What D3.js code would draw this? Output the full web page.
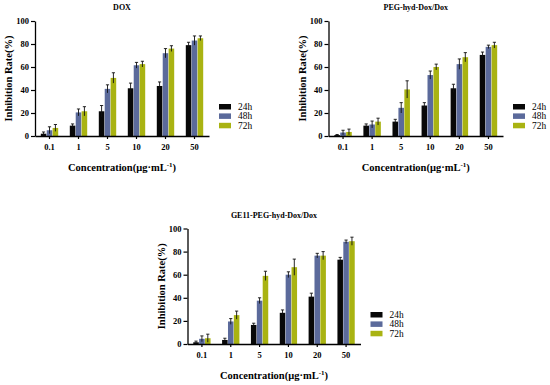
<!DOCTYPE html>
<html>
<head>
<meta charset="utf-8">
<script src="https://cdn.jsdelivr.net/npm/d3@7"></script>
<style>
  body { margin: 0; background: #fff; }
  svg { display: block; }
  svg text { font-family: "Liberation Serif", "Times New Roman", "DejaVu Serif", serif; }
</style>
</head>
<body>
<svg id="chart" width="550" height="385" font-family="Liberation Serif, serif"></svg>
<script>
// categories
const concentrations = ['0.1', '1', '5', '10', '20', '50'];
const times = ['24h', '48h', '72h'];
const yTicks = [0, 20, 40, 60, 80, 100];

// DOX: mean and error, one row per time point
const doxMean = [
  [2, 9, 21.5, 41.5, 43.5, 79],
  [5, 20.5, 41, 61.5, 72, 83],
  [7, 21.5, 50.5, 62.5, 76, 85]
];
const doxErr = [
  [1.5, 1.5, 5, 4.5, 3.5, 2.5],
  [3, 3, 3.5, 2.5, 4, 4],
  [3, 4, 4.5, 2.5, 2.5, 2]
];

// PEG-hyd-Dox/Dox
const pegMean = [
  [0.8, 9, 12.5, 26.5, 41.5, 70.5],
  [3, 10, 24.5, 53, 62.5, 77.5],
  [3.5, 12.5, 40.5, 60, 68.5, 79]
];
const pegErr = [
  [0.5, 1.5, 2, 2.5, 3.5, 2.5],
  [2, 3, 4.5, 3.5, 4.5, 1.5],
  [2.5, 3, 7.5, 2.5, 4, 2.5]
];

// GE11-PEG-hyd-Dox/Dox
const geMean = [
  [1.5, 3.5, 16.5, 27, 41, 73],
  [4.5, 19.5, 37.5, 60, 76.5, 88.5],
  [5, 25, 59, 66.5, 76.5, 89]
];
const geErr = [
  [1, 1.5, 1.5, 2.5, 3, 2],
  [2.5, 2.5, 2.5, 2.5, 2, 1.5],
  [3.5, 3.5, 4, 7, 3.5, 3.5]
];

const colors = ['#080808', '#5b6a9b', '#a9b312'];
const serif = '"Liberation Serif", "Times New Roman", serif';

const panels = [
  { title: 'DOX', mean: doxMean, err: doxErr, left: 35, right: 209, top: 21, bottom: 136 },
  { title: 'PEG-hyd-Dox/Dox', mean: pegMean, err: pegErr, left: 328.5, right: 503, top: 21, bottom: 136 },
  { title: 'GE11-PEG-hyd-Dox/Dox', mean: geMean, err: geErr, left: 187.5, right: 360.5, top: 228.5, bottom: 344 }
];

const svg = d3.select('#chart');

function drawPanel(p) {
  const g = svg.append('g');

  const x0 = d3.scaleBand()
    .domain(concentrations)
    .range([p.left, p.right])
    .paddingInner(0.4)
    .paddingOuter(0.2);

  const x1 = d3.scaleBand()
    .domain(times)
    .range([0, x0.bandwidth()])
    .paddingInner(0.06);

  const y = d3.scaleLinear()
    .domain([0, 100])
    .range([p.bottom, p.top]);

  const rows = [];
  times.forEach((t, i) => {
    concentrations.forEach((c, j) => {
      rows.push({ time: t, conc: c, value: p.mean[i][j], err: p.err[i][j], ti: i });
    });
  });

  const cx = d => x0(d.conc) + x1(d.time) + x1.bandwidth() / 2;

  // bars
  g.append('g')
    .selectAll('rect')
    .data(rows)
    .join('rect')
    .attr('x', d => x0(d.conc) + x1(d.time))
    .attr('y', d => y(d.value))
    .attr('width', x1.bandwidth())
    .attr('height', d => y(0) - y(d.value))
    .attr('fill', d => colors[d.ti]);

  // error bars
  const eb = g.append('g')
    .attr('stroke', '#111')
    .attr('stroke-width', 0.9);

  eb.selectAll('line.v')
    .data(rows)
    .join('line')
    .attr('class', 'v')
    .attr('x1', cx)
    .attr('x2', cx)
    .attr('y1', d => y(d.value + d.err))
    .attr('y2', d => y(Math.max(0, d.value - d.err)));

  eb.selectAll('line.cap')
    .data(rows)
    .join('line')
    .attr('class', 'cap')
    .attr('x1', d => cx(d) - 1.6)
    .attr('x2', d => cx(d) + 1.6)
    .attr('y1', d => y(d.value + d.err))
    .attr('y2', d => y(d.value + d.err));

  // axes
  const yAxis = g.append('g')
    .attr('transform', `translate(${p.left},0)`)
    .call(d3.axisLeft(y).tickValues(yTicks).tickSize(4).tickSizeOuter(0).tickPadding(2));

  const xAxis = g.append('g')
    .attr('transform', `translate(0,${p.bottom})`)
    .call(d3.axisBottom(x0).tickSize(3).tickSizeOuter(0).tickPadding(5));

  [yAxis, xAxis].forEach(a => {
    a.attr('font-family', serif);
    a.select('.domain').attr('stroke', '#000').attr('stroke-width', 1.3);
    a.selectAll('.tick line').attr('stroke', '#000').attr('stroke-width', 1.2);
    a.selectAll('.tick text')
      .attr('fill', '#000')
      .attr('font-family', serif)
      .attr('font-weight', 'bold')
      .attr('font-size', 8.5);
  });

  // title
  g.append('text')
    .attr('x', (p.left + p.right) / 2)
    .attr('y', p.top - 11)
    .attr('text-anchor', 'middle')
    .attr('font-family', serif)
    .attr('font-weight', 'bold')
    .attr('font-size', 8)
    .text(p.title);

  // y label
  g.append('text')
    .attr('transform', `translate(${p.left - 23},${(p.top + p.bottom) / 2}) rotate(-90)`)
    .attr('text-anchor', 'middle')
    .attr('font-family', serif)
    .attr('font-weight', 'bold')
    .attr('font-size', 10.5)
    .text('Inhibition Rate(%)');

  // x label
  const xl = g.append('text')
    .attr('x', (p.left + p.right) / 2)
    .attr('y', p.bottom + 35)
    .attr('text-anchor', 'middle')
    .attr('font-family', serif)
    .attr('font-weight', 'bold')
    .attr('font-size', 10.5);
  xl.append('tspan').text('Concentration(μg·mL');
  xl.append('tspan').attr('dy', -4).attr('font-size', 7).text('-1');
  xl.append('tspan').attr('dy', 4).text(')');

  // legend
  const lg = g.append('g')
    .attr('transform', `translate(${p.right + 10},${p.bottom - 32})`);
  times.forEach((t, i) => {
    lg.append('rect')
      .attr('x', 0)
      .attr('y', i * 9.4)
      .attr('width', 12)
      .attr('height', 5.5)
      .attr('fill', colors[i]);
    lg.append('text')
      .attr('x', 19)
      .attr('y', i * 9.4 + 6)
      .attr('font-family', serif)
      .attr('font-size', 9.4)
      .text(t);
  });
}

panels.forEach(drawPanel);
</script>
</body>
</html>
